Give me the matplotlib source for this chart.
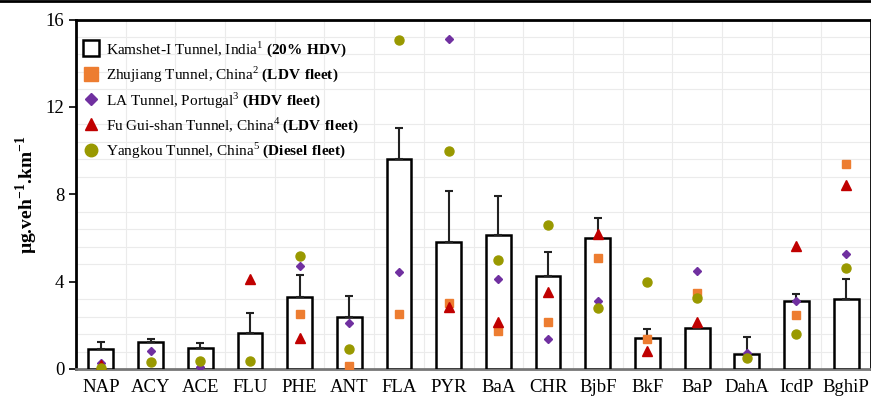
import matplotlib.pyplot as plt
from matplotlib.lines import Line2D
import numpy as np

pahs = ['NAP', 'ACY', 'ACE', 'FLU', 'PHE', 'ANT', 'FLA', 'PYR',
        'BaA', 'CHR', 'BjbF', 'BkF', 'BaP', 'DahA', 'IcdP', 'BghiP']

nan = np.nan
# Kamshet-I tunnel (bars) and upper error
kamshet = [0.93, 1.22, 0.96, 1.65, 3.29, 2.40, 9.62, 5.83,
           6.15, 4.27, 6.00, 1.42, 1.87, 0.69, 3.12, 3.20]
kamshet_err = [0.29, 0.15, 0.22, 0.90, 1.01, 0.92, 1.42, 2.30,
               1.79, 1.08, 0.91, 0.41, 0.07, 0.76, 0.32, 0.91]
zhujiang = [nan, nan, nan, nan, 2.51, 0.15, 2.51, 3.04,
            1.74, 2.16, 5.09, 1.38, 3.50, nan, 2.48, 9.39]
la_tunnel = [0.29, 0.83, 0.08, nan, 4.71, 2.11, 4.42, 15.12,
             4.10, 1.36, 3.13, nan, 4.48, 0.75, 3.09, 5.26]
fu_gui = [0.20, nan, nan, 4.13, 1.41, nan, nan, 2.84,
          2.16, 3.53, 6.16, 0.84, 2.14, nan, 5.61, 8.41]
yangkou = [0.06, 0.34, 0.38, 0.38, 5.17, 0.92, 15.08, 10.00,
           4.97, 6.58, 2.80, 3.99, 3.26, 0.52, 1.62, 4.63]

labels = ['Kamshet-I Tunnel, India$^{1}$ $\\mathbf{(20\\%\\ HDV)}$',
          'Zhujiang Tunnel, China$^{2}$ $\\mathbf{(LDV\\ fleet)}$',
          'LA Tunnel, Portugal$^{3}$ $\\mathbf{(HDV\\ fleet)}$',
          'Fu Gui-shan Tunnel, China$^{4}$ $\\mathbf{(LDV\\ fleet)}$',
          'Yangkou Tunnel, China$^{5}$ $\\mathbf{(Diesel\\ fleet)}$']

plt.rcParams['font.family'] = 'Liberation Serif'
plt.rcParams['mathtext.fontset'] = 'custom'
plt.rcParams['mathtext.rm'] = 'Liberation Serif'
plt.rcParams['mathtext.bf'] = 'Liberation Serif:bold'

fig = plt.figure(figsize=(8.71, 3.98), dpi=100)
ax = fig.add_axes([0.0873, 0.0729, 0.9127, 0.878])

x = np.arange(len(pahs))
ax.bar(x, kamshet, width=0.5, color='white', edgecolor='black', linewidth=1.8,
       yerr=[np.zeros(len(x)), kamshet_err], capsize=3,
       error_kw=dict(ecolor='#222222', elinewidth=1.5, capthick=1.5),
       zorder=3)
ax.plot(x, zhujiang, 's', color='#ED7D31', ms=6, zorder=4)
ax.plot(x, la_tunnel, 'D', color='#7030A0', ms=4.5, zorder=4)
ax.plot(x, fu_gui, '^', color='#C00000', ms=6.5, zorder=4)
ax.plot(x, yangkou, 'o', color='#999900', ms=6.5, zorder=4)

ax.set_xlim(-0.5, 15.5)
ax.set_ylim(0, 16)
ax.set_yticks([0, 4, 8, 12, 16])
ax.set_yticks(np.arange(0, 16.01, 0.8), minor=True)
ax.set_xticks(x)
ax.set_xticks(np.arange(-0.5, 15.6, 0.5), minor=True)
ax.set_xticklabels(pahs, fontsize=13.5)
ax.tick_params(axis='y', labelsize=13.5, length=5, width=1.2)
ax.tick_params(axis='x', length=0, pad=7)
ax.tick_params(which='minor', length=0)
ax.grid(which='minor', color='#ebebeb', linewidth=0.8, zorder=0)
ax.set_axisbelow(True)

for s in ['top', 'left', 'right']:
    ax.spines[s].set_linewidth(2)
ax.spines['bottom'].set_color('#777777')
ax.spines['bottom'].set_linewidth(2)

ax.set_ylabel('µg.veh$^{\\mathbf{-1}}$.km$^{\\mathbf{-1}}$', fontsize=14,
              fontweight='bold', labelpad=4)

handles = [
    Line2D([], [], ls='none', marker='s', ms=11, mfc='white', mec='black', mew=1.8),
    Line2D([], [], ls='none', marker='s', ms=10, color='#ED7D31'),
    Line2D([], [], ls='none', marker='D', ms=6.5, color='#7030A0'),
    Line2D([], [], ls='none', marker='^', ms=9, color='#C00000'),
    Line2D([], [], ls='none', marker='o', ms=9, color='#999900'),
]
ax.legend(handles, labels, loc='upper left', frameon=False, fontsize=11,
          handletextpad=0.4, labelspacing=0.38, handlelength=1.2,
          bbox_to_anchor=(-0.006, 0.975), borderaxespad=0.3)

fig.add_artist(plt.Line2D([0, 1], [0.998, 0.998], color='black', lw=2))

fig.savefig('out.png', dpi=100)
